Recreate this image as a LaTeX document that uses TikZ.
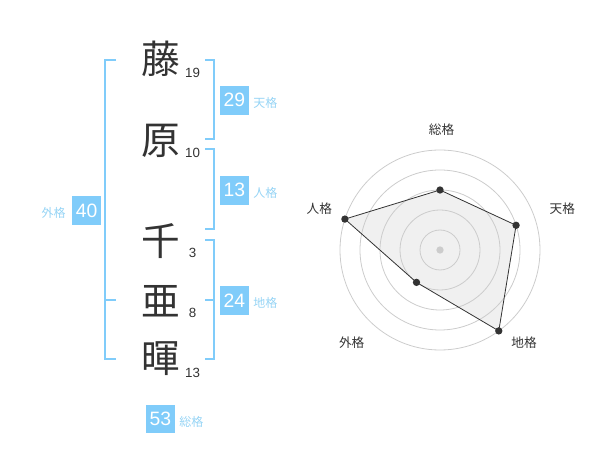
\documentclass[tikz,border=0pt]{standalone}
\usepackage{fontspec}
\setmainfont{Liberation Sans}
\newfontfamily\cjk{Noto Sans CJK JP}
\definecolor{kakublue}{RGB}{128,204,250}
\definecolor{kakulabel}{RGB}{150,212,245}
\definecolor{moji}{RGB}{51,51,51}
\definecolor{ring}{RGB}{204,204,204}
\tikzset{
	kanji/.style={inner sep=0pt, text=moji, font=\cjk\fontsize{29}{29}\selectfont},
	kakusu/.style={inner sep=0pt, text=moji, font=\fontsize{10}{10}\selectfont},
	kakubox/.style={fill=kakublue, text=white, minimum width=21.5pt, minimum height=21.5pt, inner sep=0pt, font=\fontsize{14.5}{14.5}\selectfont},
	kakuname/.style={inner sep=0pt, text=kakulabel, font=\cjk\fontsize{9}{9}\selectfont},
	bracket/.style={draw=kakublue, line width=1.5pt},
	axisname/.style={inner sep=0pt, text=moji, font=\cjk\fontsize{9.5}{9.5}\selectfont},
	dot/.style={circle, fill=moji, inner sep=0pt, minimum size=5.5pt}
}
\begin{document}
\begin{tikzpicture}[x=0.75pt,y=0.75pt,yscale=-1,xscale=1]
	\useasboundingbox (0,0) rectangle (600,470);
	% name
	\node[kanji] (fuji) at (160.5,59) {藤};
	\node[kanji] (hara) at (160.5,141) {原};
	\node[kanji] (sen) at (160.5,241) {千};
	\node[kanji] (a) at (160.5,301) {亜};
	\node[kanji] (ki) at (160.5,359) {暉};
	\node[kakusu] (n19) at (192.5,72.5) {19};
	\node[kakusu] (n10) at (192.5,152.5) {10};
	\node[kakusu] (n3) at (192.5,252.5) {3};
	\node[kakusu] (n8) at (192.5,312.5) {8};
	\node[kakusu] (n13) at (192.5,372.5) {13};
	% brackets
	\draw[bracket] (205,60) -- (214,60) -- (214,139) -- (205,139);
	\draw[bracket] (205,149) -- (214,149) -- (214,229) -- (205,229);
	\draw[bracket] (205,240) -- (214,240) -- (214,359.5) -- (205,359.5);
	\draw[bracket] (205,300) -- (214,300);
	\draw[bracket] (116,60) -- (105,60) -- (105,359.5) -- (116,359.5);
	\draw[bracket] (105,300) -- (116,300);
	% kaku
	\node[kakubox] (ten) at (234.3,100.3) {29};
	\node[kakuname, anchor=west] (tenname) at (253,103) {天格};
	\node[kakubox] (jin) at (234.3,190.3) {13};
	\node[kakuname, anchor=west] (jinname) at (253,193) {人格};
	\node[kakubox] (chi) at (234.3,300.3) {24};
	\node[kakuname, anchor=west] (chiname) at (253,303) {地格};
	\node[kakubox] (gai) at (86.7,210.5) {40};
	\node[kakuname, anchor=east] (gainame) at (66,213) {外格};
	\node[kakubox] (so) at (160.5,419) {53};
	\node[kakuname, anchor=west] (soname) at (179,422) {総格};
	% radar
	\begin{scope}[shift={(440,250)},yscale=-1]
		\coordinate (pso) at (90:60);
		\coordinate (pten) at (18:80);
		\coordinate (pchi) at (-54:100);
		\coordinate (pgai) at (-126:40);
		\coordinate (pjin) at (162:100);
		\fill[black!6] (pso) -- (pten) -- (pchi) -- (pgai) -- (pjin) -- cycle;
		\foreach \r in {20,40,...,100}
			\draw[ring, line width=0.6pt] (0,0) circle (\r);
		\draw[moji, line width=0.6pt] (pso) -- (pten) -- (pchi) -- (pgai) -- (pjin) -- cycle;
		\foreach \p in {pso,pten,pchi,pgai,pjin}
			\node[dot] at (\p) {};
		\node[circle, fill=ring, inner sep=0pt, minimum size=5.5pt] (center) at (0,0) {};
	\end{scope}
	\node[axisname] (soaxis) at (441.5,130) {総格};
	\node[axisname] (tenaxis) at (562.3,208.3) {天格};
	\node[axisname] (chiaxis) at (524,342.7) {地格};
	\node[axisname] (gaiaxis) at (351.7,342.7) {外格};
	\node[axisname] (jinaxis) at (319.3,208.3) {人格};
\end{tikzpicture}
\end{document}
